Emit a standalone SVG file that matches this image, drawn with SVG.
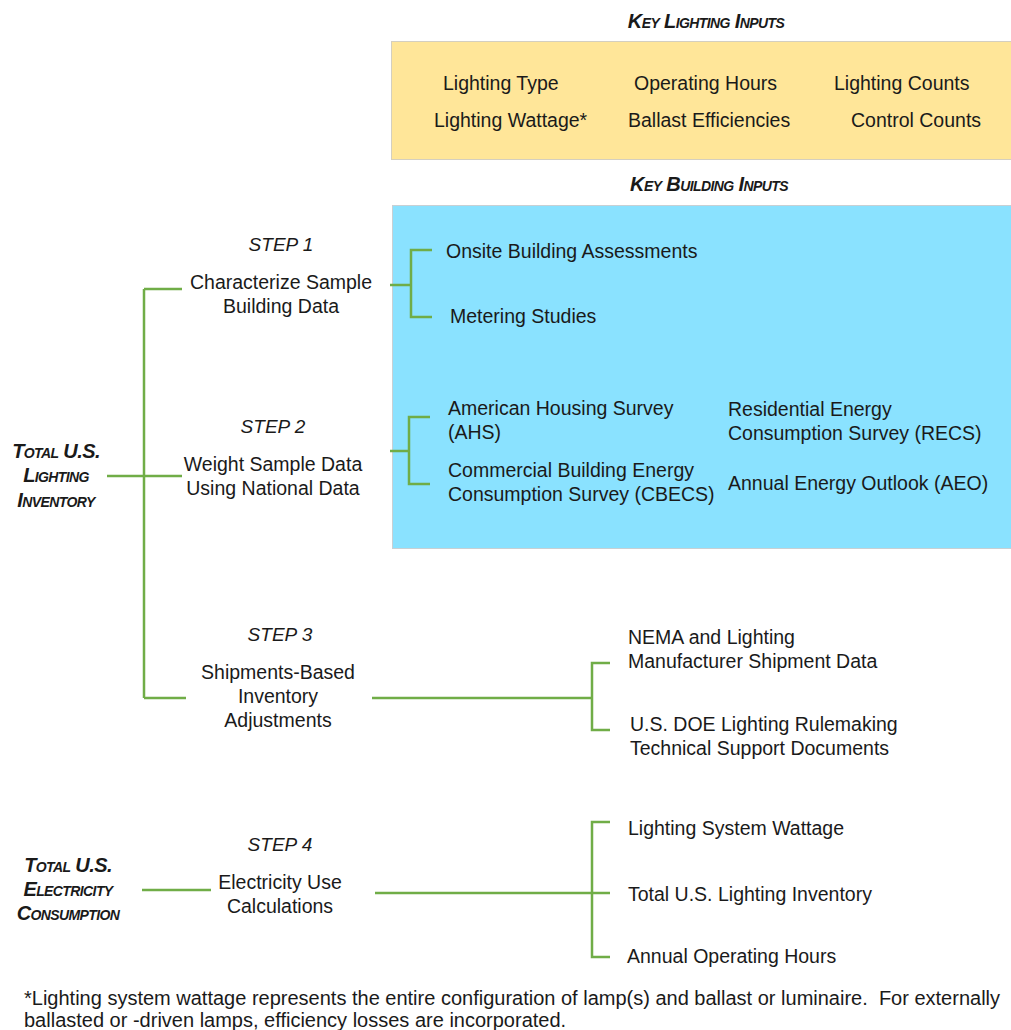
<svg xmlns="http://www.w3.org/2000/svg" width="1011" height="1030" viewBox="0 0 1011 1030">
<style>
text{font-family:"Liberation Sans",Arial,sans-serif;font-size:19.5px;fill:#1a1a1a}
.c{text-anchor:middle}
.step{font-style:italic;font-size:19px}
.sc{font-variant:small-caps;font-weight:bold;font-style:italic;font-size:20px;letter-spacing:-0.6px}
.sl{font-variant:small-caps;font-weight:bold;font-style:italic;font-size:20px;letter-spacing:-0.6px}
.ln{stroke:#70AD47;stroke-width:2.5;fill:none}
.fn{font-size:20px;white-space:pre}
</style>
<rect width="1011" height="1030" fill="#fff"/>
<g id="lighting-inputs">
<text class="sc c" x="706" y="28">Key Lighting Inputs</text>
<rect x="391.5" y="41.5" width="625" height="118" fill="#FFE699" stroke="#D4CFC0"/>
<text x="443" y="90">Lighting Type</text>
<text x="634" y="90">Operating Hours</text>
<text x="834" y="90">Lighting Counts</text>
<text x="434" y="127">Lighting Wattage*</text>
<text x="628" y="127">Ballast Efficiencies</text>
<text x="851" y="127">Control Counts</text>
</g>
<g id="building-inputs">
<text class="sc c" x="709" y="191">Key Building Inputs</text>
<rect x="392.5" y="205.5" width="625" height="343" fill="#8AE2FF" stroke="#C8D0D4"/>
<text x="446" y="258">Onsite Building Assessments</text>
<text x="450" y="323">Metering Studies</text>
<text x="448" y="415">American Housing Survey</text>
<text x="448" y="439">(AHS)</text>
<text x="448" y="477">Commercial Building Energy</text>
<text x="448" y="501">Consumption Survey (CBECS)</text>
<text x="728" y="416">Residential Energy</text>
<text x="728" y="440">Consumption Survey (RECS)</text>
<text x="728" y="490">Annual Energy Outlook (AEO)</text>
</g>
<g id="total-lighting">
<text class="sl c" x="56" y="458">Total U.S.</text>
<text class="sl c" x="56" y="482">Lighting</text>
<text class="sl c" x="56" y="507">Inventory</text>
</g>
<g id="step1">
<text class="step c" x="281" y="251">STEP 1</text>
<text class="c" x="281" y="289">Characterize Sample</text>
<text class="c" x="281" y="313">Building Data</text>
</g>
<g id="step2">
<text class="step c" x="273" y="433">STEP 2</text>
<text class="c" x="273" y="471">Weight Sample Data</text>
<text class="c" x="273" y="495">Using National Data</text>
</g>
<g id="step3">
<text class="step c" x="280" y="641">STEP 3</text>
<text class="c" x="278" y="679">Shipments-Based</text>
<text class="c" x="278" y="703">Inventory</text>
<text class="c" x="278" y="727">Adjustments</text>
</g>
<g id="step3-inputs">
<text x="628" y="644">NEMA and Lighting</text>
<text x="628" y="668">Manufacturer Shipment Data</text>
<text x="630" y="731">U.S. DOE Lighting Rulemaking</text>
<text x="630" y="755">Technical Support Documents</text>
</g>
<g id="total-electricity">
<text class="sl c" x="68" y="872">Total U.S.</text>
<text class="sl c" x="68" y="896">Electricity</text>
<text class="sl c" x="68" y="920">Consumption</text>
</g>
<g id="step4">
<text class="step c" x="280" y="851">STEP 4</text>
<text class="c" x="280" y="889">Electricity Use</text>
<text class="c" x="280" y="913">Calculations</text>
</g>
<g id="step4-inputs">
<text x="628" y="835">Lighting System Wattage</text>
<text x="628" y="901">Total U.S. Lighting Inventory</text>
<text x="627" y="963">Annual Operating Hours</text>
</g>
<g id="footnote">
<text class="fn" x="24" y="1005">*Lighting system wattage represents the entire configuration of lamp(s) and ballast or luminaire.  For externally</text>
<text class="fn" x="24" y="1027">ballasted or -driven lamps, efficiency losses are incorporated.</text>
</g>
<g id="connectors">
<path class="ln" d="M144 289V698M144 289H182M107 476H182M144 698H186"/>
<path class="ln" d="M390 285H411M432 250H411V317H432"/>
<path class="ln" d="M390 451H409M430 417H409V484H430"/>
<path class="ln" d="M372 698H592M610 663H592V730H610"/>
<path class="ln" d="M142 890H211"/>
<path class="ln" d="M375 893H610M610 822H592V957H610"/>
</g>
</svg>
